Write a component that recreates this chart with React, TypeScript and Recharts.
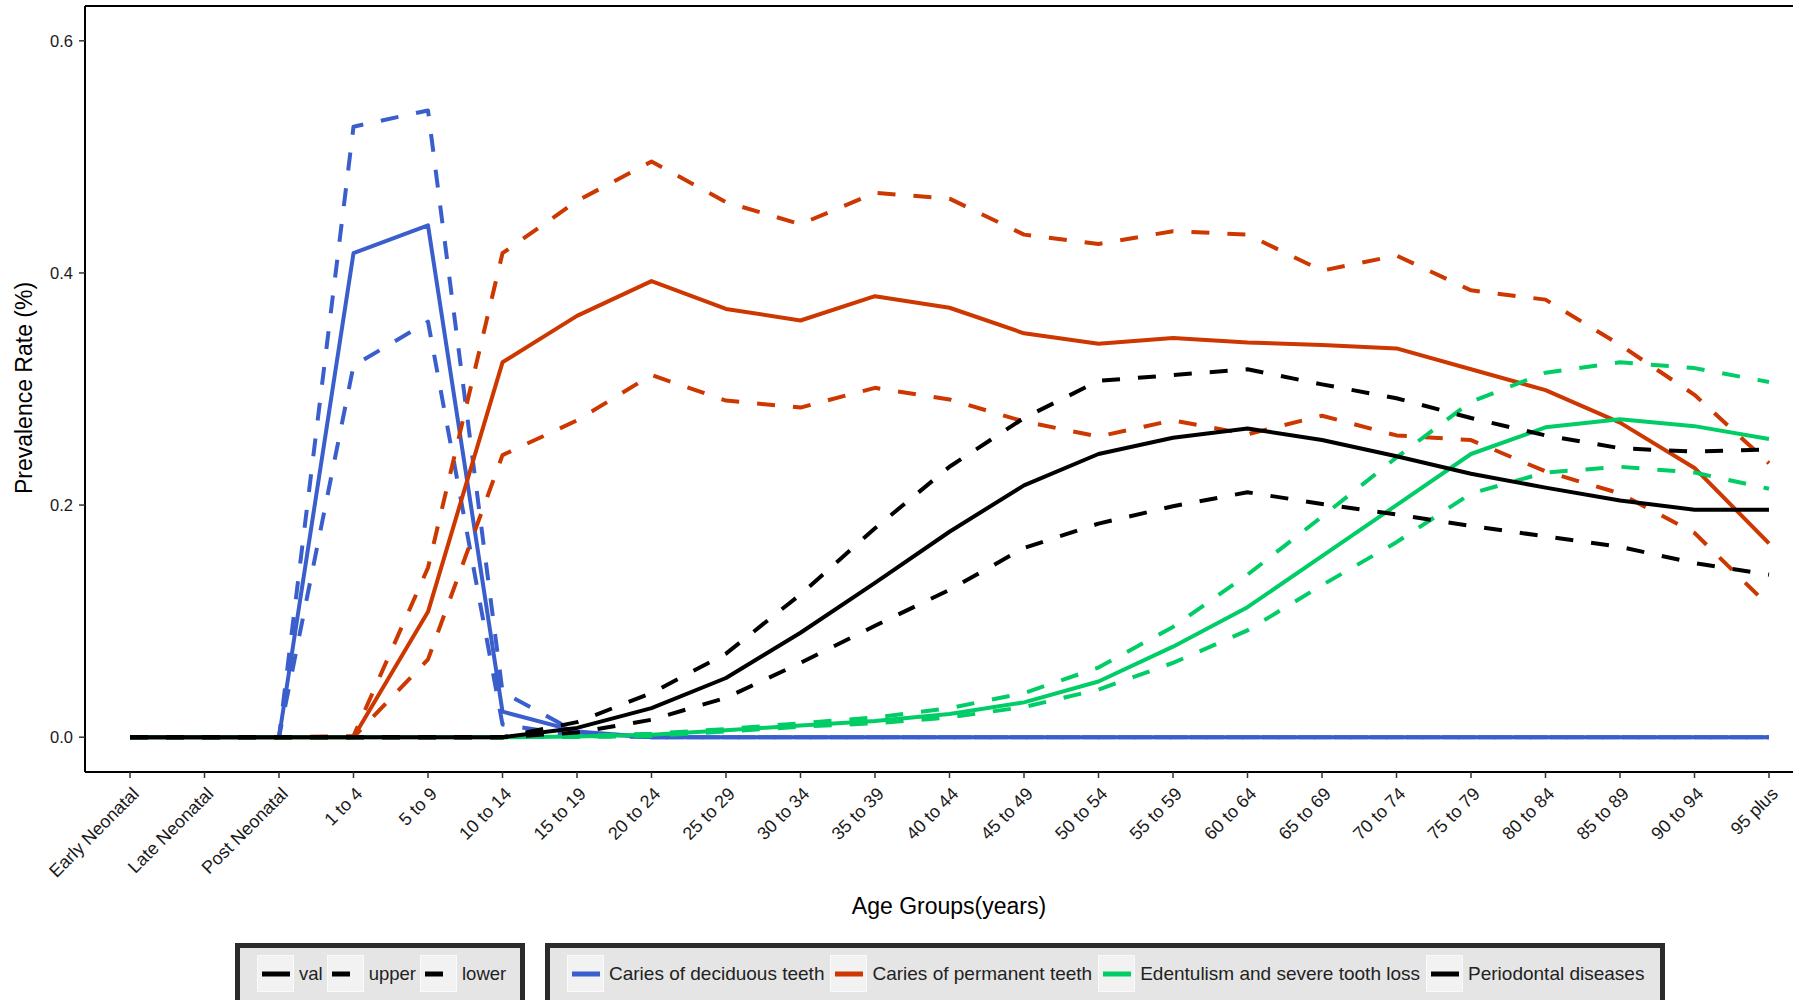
import React from 'react';
import { LineChart, Line, XAxis, YAxis, ReferenceLine } from 'recharts';

const AGE_GROUPS = [
  'Early Neonatal', 'Late Neonatal', 'Post Neonatal', '1 to 4', '5 to 9', '10 to 14',
  '15 to 19', '20 to 24', '25 to 29', '30 to 34', '35 to 39', '40 to 44', '45 to 49',
  '50 to 54', '55 to 59', '60 to 64', '65 to 69', '70 to 74', '75 to 79', '80 to 84',
  '85 to 89', '90 to 94', '95 plus',
];

// Caries of deciduous teeth
const DECID_VAL = [0, 0, 0, 0.417, 0.441, 0.022, 0.005, 0, 0, 0, 0, 0, 0, 0, 0, 0, 0, 0, 0, 0, 0, 0, 0];
const DECID_UPPER = [0, 0, 0, 0.526, 0.540, 0.039, 0.004, 0, 0, 0, 0, 0, 0, 0, 0, 0, 0, 0, 0, 0, 0, 0, 0];
const DECID_LOWER = [0, 0, 0, 0.320, 0.358, 0.011, 0.001, 0, 0, 0, 0, 0, 0, 0, 0, 0, 0, 0, 0, 0, 0, 0, 0];

// Caries of permanent teeth
const PERM_VAL = [0, 0, 0, 0, 0.108, 0.323, 0.363, 0.393, 0.369, 0.359, 0.380, 0.370, 0.348, 0.339, 0.344, 0.340, 0.338, 0.335, 0.317, 0.299, 0.271, 0.232, 0.167];
const PERM_UPPER = [0, 0, 0, 0.001, 0.146, 0.417, 0.462, 0.496, 0.461, 0.442, 0.469, 0.464, 0.433, 0.425, 0.436, 0.433, 0.402, 0.415, 0.385, 0.377, 0.338, 0.295, 0.236];
const PERM_LOWER = [0, 0, 0, 0, 0.067, 0.243, 0.273, 0.312, 0.290, 0.284, 0.301, 0.291, 0.272, 0.259, 0.273, 0.261, 0.277, 0.260, 0.256, 0.229, 0.210, 0.176, 0.113];

// Edentulism and severe tooth loss
const EDENT_VAL = [0, 0, 0, 0, 0, 0, 0.0005, 0.002, 0.006, 0.010, 0.014, 0.020, 0.030, 0.048, 0.078, 0.112, 0.156, 0.200, 0.244, 0.267, 0.274, 0.268, 0.257];
const EDENT_UPPER = [0, 0, 0, 0, 0, 0, 0.001, 0.003, 0.007, 0.012, 0.017, 0.025, 0.038, 0.060, 0.095, 0.140, 0.190, 0.241, 0.289, 0.314, 0.323, 0.318, 0.306];
const EDENT_LOWER = [0, 0, 0, 0, 0, 0, 0.0002, 0.001, 0.005, 0.009, 0.012, 0.017, 0.026, 0.041, 0.064, 0.092, 0.131, 0.168, 0.210, 0.228, 0.233, 0.228, 0.214];

// Periodontal diseases
const PERIO_VAL = [0, 0, 0, 0, 0, 0, 0.008, 0.025, 0.051, 0.090, 0.133, 0.177, 0.217, 0.244, 0.258, 0.266, 0.256, 0.242, 0.227, 0.215, 0.204, 0.196, 0.196];
const PERIO_UPPER = [0, 0, 0, 0, 0, 0, 0.013, 0.038, 0.072, 0.123, 0.180, 0.233, 0.275, 0.307, 0.312, 0.317, 0.304, 0.292, 0.275, 0.260, 0.249, 0.246, 0.248];
const PERIO_LOWER = [0, 0, 0, 0, 0, 0, 0.004, 0.015, 0.034, 0.064, 0.096, 0.127, 0.163, 0.184, 0.199, 0.211, 0.201, 0.192, 0.182, 0.173, 0.164, 0.150, 0.140];

const Y_TICKS = [0, 0.2, 0.4, 0.6];

const DISEASES = [
  { key: 'decid', name: 'Caries of deciduous teeth', color: '#3A5FCD', val: DECID_VAL, upper: DECID_UPPER, lower: DECID_LOWER },
  { key: 'perm', name: 'Caries of permanent teeth', color: '#CD3700', val: PERM_VAL, upper: PERM_UPPER, lower: PERM_LOWER },
  { key: 'edent', name: 'Edentulism and severe tooth loss', color: '#00CD66', val: EDENT_VAL, upper: EDENT_UPPER, lower: EDENT_LOWER },
  { key: 'perio', name: 'Periodontal diseases', color: '#000000', val: PERIO_VAL, upper: PERIO_UPPER, lower: PERIO_LOWER },
];

const MEASURES = [
  { key: 'val', dashed: false },
  { key: 'upper', dashed: true },
  { key: 'lower', dashed: true },
];

const FONT = '"Liberation Sans", Arial, Helvetica, sans-serif';
const DASH = '18 18';

const chartData = AGE_GROUPS.map((age, i) => {
  const row: Record<string, number | string> = { age };
  DISEASES.forEach((d) => {
    row[`${d.key}_val`] = d.val[i];
    row[`${d.key}_upper`] = d.upper[i];
    row[`${d.key}_lower`] = d.lower[i];
  });
  return row;
});

const AgeTick = (props: any) => {
  const { x, y, payload } = props;
  const tx = x + 10;
  const ty = y + 15;
  return (
    <text
      x={tx}
      y={ty}
      textAnchor="end"
      transform={`rotate(-45 ${tx} ${ty})`}
      fontSize={18}
      fontFamily={FONT}
      fill="#1a1a1a"
    >
      {payload.value}
    </text>
  );
};

const LegendKey = ({ color, dashed }: { color: string; dashed: boolean }) => (
  <div style={{ width: 35, height: 35, background: '#f2f2f2', border: '1px solid #fafafa', flex: 'none' }}>
    <svg width={35} height={35} style={{ display: 'block' }}>
      <line x1={4} x2={32} y1={18} y2={18} stroke={color} strokeWidth={5} strokeDasharray={dashed ? DASH : undefined} />
    </svg>
  </div>
);

const legendBox: React.CSSProperties = {
  position: 'absolute',
  top: 943,
  height: 100,
  border: '5px solid #2b2b2b',
  background: '#e5e5e5',
  display: 'flex',
  alignItems: 'flex-start',
  paddingTop: 7,
  paddingLeft: 17,
  paddingRight: 16,
  boxSizing: 'border-box',
  fontFamily: FONT,
  fontSize: 19,
  color: '#222',
};

const LegendItem = ({ color, dashed, label, first, gap = 6 }: { color: string; dashed: boolean; label: string; first?: boolean; gap?: number }) => (
  <div style={{ display: 'flex', alignItems: 'center', marginLeft: first ? 0 : gap, height: 37 }}>
    <LegendKey color={color} dashed={dashed} />
    <span style={{ marginLeft: 5, whiteSpace: 'nowrap' }}>{label}</span>
  </div>
);

export default function App() {
  return (
    <div style={{ position: 'absolute', left: 0, top: 0, width: 1793, height: 1000, overflow: 'hidden', background: '#fff' }}>
      <LineChart
        width={1793}
        height={1000}
        data={chartData}
        margin={{ top: 6, right: 0, bottom: 78, left: 25 }}
      >
        <XAxis
          dataKey="age"
          type="category"
          interval={0}
          height={150}
          padding={{ left: 45, right: 24 }}
          axisLine={{ stroke: '#000', strokeWidth: 2 }}
          tickLine={{ stroke: '#333', strokeWidth: 1.5 }}
          tickSize={6}
          tick={<AgeTick />}
        />
        <YAxis
          width={60}
          domain={[-0.03, 0.63]}
          ticks={Y_TICKS}
          tickFormatter={(v: number) => v.toFixed(1)}
          axisLine={{ stroke: '#000', strokeWidth: 2 }}
          tickLine={{ stroke: '#333', strokeWidth: 1.5 }}
          tickSize={6}
          tickMargin={6}
          tick={{ fontSize: 16.5, fill: '#1a1a1a', fontFamily: FONT }}
        />
        <ReferenceLine y={0.63} stroke="#000" strokeWidth={2} />
        {DISEASES.map((d) =>
          MEASURES.map((m) => (
            <Line
              key={`${d.key}_${m.key}`}
              dataKey={`${d.key}_${m.key}`}
              type="linear"
              stroke={d.color}
              strokeWidth={4}
              strokeDasharray={m.dashed ? DASH : undefined}
              strokeLinejoin="round"
              dot={false}
              activeDot={false}
              legendType="none"
              isAnimationActive={false}
            />
          ))
        )}
      </LineChart>

      <div
        style={{
          position: 'absolute',
          left: 24,
          top: 388,
          transform: 'translate(-50%, -50%) rotate(-90deg)',
          fontFamily: FONT,
          fontSize: 23,
          whiteSpace: 'nowrap',
          color: '#000',
        }}
      >
        Prevalence Rate (%)
      </div>
      <div
        style={{
          position: 'absolute',
          left: 949,
          top: 906,
          transform: 'translate(-50%, -50%)',
          fontFamily: FONT,
          fontSize: 23,
          whiteSpace: 'nowrap',
          color: '#000',
        }}
      >
        Age Groups(years)
      </div>

      <div style={{ ...legendBox, left: 235, fontSize: 18.5, paddingRight: 14 }}>
        {MEASURES.map((m, i) => (
          <LegendItem key={m.key} color="#000" dashed={m.dashed} label={m.key} first={i === 0} gap={4} />
        ))}
      </div>
      <div style={{ ...legendBox, left: 545 }}>
        {DISEASES.map((d, i) => (
          <LegendItem key={d.key} color={d.color} dashed={false} label={d.name} first={i === 0} />
        ))}
      </div>
    </div>
  );
}
